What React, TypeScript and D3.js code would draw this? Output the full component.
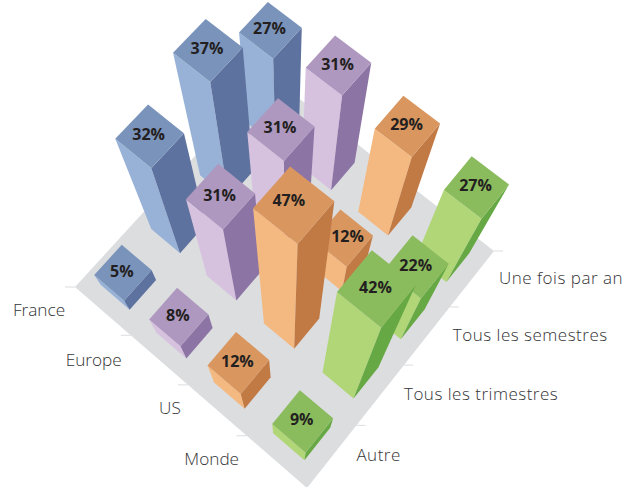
import React from "react";
import * as d3 from "d3";

// Regions run along the lower-left edge of the floor, frequencies along the lower-right edge.
const regions = ["France", "Europe", "US", "Monde"];
const frequencies = ["Autre", "Tous les trimestres", "Tous les semestres", "Une fois par an"];

const franceValues = [5, 32, 37, 27];
const europeValues = [8, 31, 31, 31];
const usValues = [12, 47, 12, 29];
const mondeValues = [9, 42, 22, 27];
const seriesValues = [franceValues, europeValues, usValues, mondeValues];

const palette = [
  { top: "#7a93bb", left: "#98b2d7", right: "#5e729f" },
  { top: "#ae98bf", left: "#d6c2df", right: "#8c75a5" },
  { top: "#d9965f", left: "#f4b981", right: "#c27a45" },
  { top: "#8abb5c", left: "#b1d678", right: "#66a843" },
];

type Pt = [number, number];

// Floor corners on screen and the point where the vertical edges converge.
const floorLeft: Pt = [75, 287];
const floorFront: Pt = [307, 488];
const floorRight: Pt = [494, 251];
const floorBack: Pt = [269, 75];
const nadir: Pt = [287, 569];

// Maps the unit square (u along the region edge, v along the frequency edge) onto the floor.
function makeHomography(p00: Pt, p10: Pt, p11: Pt, p01: Pt) {
  const dx1 = p10[0] - p11[0];
  const dx2 = p01[0] - p11[0];
  const dy1 = p10[1] - p11[1];
  const dy2 = p01[1] - p11[1];
  const sx = p00[0] - p10[0] + p11[0] - p01[0];
  const sy = p00[1] - p10[1] + p11[1] - p01[1];
  const den = dx1 * dy2 - dx2 * dy1;
  const g = (sx * dy2 - dx2 * sy) / den;
  const h = (dx1 * sy - sx * dy1) / den;
  const a = p10[0] - p00[0] + g * p10[0];
  const b = p01[0] - p00[0] + h * p01[0];
  const d = p10[1] - p00[1] + g * p10[1];
  const e = p01[1] - p00[1] + h * p01[1];
  return (u: number, v: number): Pt => {
    const w = g * u + h * v + 1;
    return [(a * u + b * v + p00[0]) / w, (d * u + e * v + p00[1]) / w];
  };
}

const toFloor = makeHomography(floorLeft, floorFront, floorRight, floorBack);

const uScale = d3.scaleBand<string>().domain(regions).range([0, 1]).paddingInner(0.48).paddingOuter(0.24);
const vScale = d3.scaleBand<string>().domain(frequencies).range([0, 1]).paddingInner(0.48).paddingOuter(0.24);
const tickScaleU = d3.scalePoint<string>().domain(regions).range([0, 1 - 1 / regions.length]);
const tickScaleV = d3.scalePoint<string>().domain(frequencies).range([1 / frequencies.length, 1]);

// A bar's height is a shrink factor toward the viewer: taller bars spread further from the nadir.
const heightScale = d3.scaleLinear().domain([0, 47]).range([0, 0.329]);

// Points further back on the floor are further from the camera, so the same height spreads less.
const depthFactor = d3.scaleLinear().domain([133, 400]).range([0.9, 1]);

function raise(p: Pt, value: number): Pt {
  const s = 1 / (1 - heightScale(value) * depthFactor(p[1]));
  return [nadir[0] + (p[0] - nadir[0]) * s, nadir[1] + (p[1] - nadir[1]) * s];
}

const pathOf = d3.line<Pt>().curve(d3.curveLinearClosed);

// Label positions relative to the tick each label belongs to.
const regionLabelOffset: Pt[] = [
  [-36, 24],
  [-37, 26],
  [-18, 25],
  [-35, 25],
];
const frequencyLabelOffset: Pt[] = [
  [0, 31],
  [0, 30],
  [3, 29],
  [5, 28],
];

// Value labels moved off the face centre so neighbouring bars do not cover them.
const valueLabelShift: Record<string, Pt> = {
  "2-2": [5, 0],
  "2-1": [-4, -3],
};

const labelFont = "'Open Sans', 'Noto Sans', sans-serif";

export default function App() {
  const cells: { i: number; j: number; value: number }[] = [];
  d3.range(frequencies.length - 1, -1, -1).forEach((j) => {
    regions.forEach((_, i) => cells.push({ i, j, value: seriesValues[i][j] }));
  });

  return (
    <svg
      width={626}
      height={487}
      viewBox="0 0 626 487"
      style={{ position: "absolute", left: 0, top: 0, background: "#fff" }}
    >
      <path d={pathOf([floorLeft, floorFront, floorRight, floorBack]) ?? ""} fill="#dcdddf" />

      {regions.map((r, k) => {
        const t = toFloor(tickScaleU(r) ?? 0, 0);
        const next = toFloor((tickScaleU(r) ?? 0) + 0.25, 0);
        const o = regionLabelOffset[k];
        return (
          <g key={r}>
            <line x1={t[0]} y1={t[1]} x2={t[0] - 10} y2={t[1]} stroke="#dcdddf" strokeWidth={1} />
            {k === regions.length - 1 && (
              <line x1={next[0]} y1={next[1]} x2={next[0] - 10} y2={next[1]} stroke="#dcdddf" strokeWidth={1} />
            )}
            <text x={t[0] + o[0]} y={t[1] + o[1]} textAnchor="middle" dominantBaseline="middle"
              fontFamily={labelFont} fontSize={17.2} fill="#333335" fontWeight={300}>{r}</text>
          </g>
        );
      })}

      {frequencies.map((f, k) => {
        const t = toFloor(1, tickScaleV(f) ?? 0);
        const o = frequencyLabelOffset[k];
        return (
          <g key={f}>
            <line x1={t[0]} y1={t[1]} x2={t[0] + 9} y2={t[1]} stroke="#dcdddf" strokeWidth={1} />
            <text x={t[0] + o[0]} y={t[1] + o[1]} textAnchor="start" dominantBaseline="middle"
              fontFamily={labelFont} fontSize={17} fill="#333335" fontWeight={300} letterSpacing={0.5}>{f}</text>
          </g>
        );
      })}

      {cells.map(({ i, j, value }) => {
        const u0 = uScale(regions[i]) ?? 0;
        const v0 = vScale(frequencies[j]) ?? 0;
        const u1 = u0 + uScale.bandwidth();
        const v1 = v0 + vScale.bandwidth();
        const colors = palette[i];
        const aL = toFloor(u0, v0);
        const aF = toFloor(u1, v0);
        const aR = toFloor(u1, v1);
        const tL = raise(aL, value);
        const tF = raise(aF, value);
        const tR = raise(aR, value);
        const tB = raise(toFloor(u0, v1), value);
        const centre = raise(toFloor((u0 + u1) / 2, (v0 + v1) / 2), value);
        const shift = valueLabelShift[`${i}-${j}`] ?? [0, 0];
        return (
          <g key={`${i}-${j}`}>
            <path d={pathOf([aL, aF, tF, tL]) ?? ""} fill={colors.left} />
            <path d={pathOf([aF, aR, tR, tF]) ?? ""} fill={colors.right} />
            <path d={pathOf([tL, tF, tR, tB]) ?? ""} fill={colors.top} />
            <text x={centre[0] - 1 + shift[0]} y={centre[1] + shift[1]} textAnchor="middle" dominantBaseline="middle"
              fontFamily="'Open Sans', sans-serif" fontWeight={700} fontSize={16} fill="#231f20">
              {value}%
            </text>
          </g>
        );
      })}
    </svg>
  );
}
